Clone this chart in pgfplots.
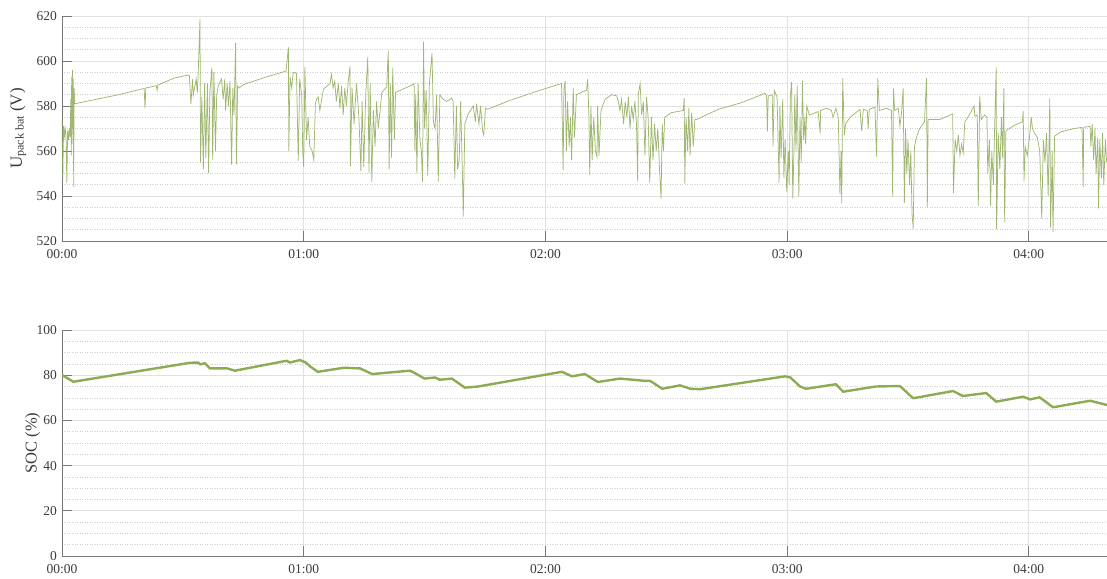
\documentclass[border=0pt]{standalone}
\usepackage{pgfplots}
\pgfplotsset{compat=1.18}
\usepackage{pgfplotstable}
\usepackage{fontspec}
\setmainfont{Liberation Serif}
\definecolor{volt}{RGB}{143,172,88}
\definecolor{soc}{RGB}{140,172,84}
\definecolor{gridmaj}{RGB}{225,225,225}
\definecolor{gridmin}{RGB}{205,205,205}
\definecolor{axcol}{RGB}{120,120,120}
\definecolor{txt}{RGB}{60,60,60}

\pgfplotstableread{
t V
0.0 574
0.2 548
0.4 571
0.6 566
0.8 570
1.0 567
1.2 546
1.4 569
1.6 565
1.8 570
2.0 566
2.2 583
2.3 558
2.4 593
2.5 563
2.6 596
2.7 570
2.8 592
2.9 544
3.0 588
3.2 581
8 582.8
14 585
20.4 587.8
20.6 579
20.8 588
23.4 589
23.6 587
23.8 589.3
27 591.8
28 592.5
31.6 593.8
32.0 581
32.4 592
32.6 585
33.3 592
33.6 586
33.8 594
34.25 618.5
34.4 555
34.7 584
35.1 552
35.4 590
35.7 557
36.1 590
36.4 550
36.7 586
37.2 597
37.4 556
37.7 595
38.1 560
38.4 585
38.8 589
39.6 592
40.0 583
40.4 592
40.6 578
41.0 590
41.3 580
41.7 591
42.1 554
42.4 588
42.7 576
43.1 608
43.3 554
43.6 589
44.0 588
45 589.5
50 592.5
55.6 595.5
56.2 606
56.3 560
56.6 593
57.0 588
57.4 595
58.2 594.5
58.65 555.6
59.0 592
59.5 585
59.75 560
60.0 553
60.3 597.5
60.7 565
61.1 575
61.5 562
62.1 560
62.5 556
62.9 581
63.2 583
63.6 584
64.0 578
64.9 587.5
66.5 590
66.9 594
67.3 588
67.7 591
68.1 582
68.6 590
69.0 579
69.4 589
69.8 576
70.2 588
70.6 580
71.0 590
71.5 597.6
71.6 553.2
72.0 588
72.5 572
73.1 590
73.7 575
74.2 551
74.5 582
74.9 553
75.4 585
75.9 601.7
76.2 550
76.5 590
76.9 546.3
77.3 578
77.7 562
78.1 582
78.5 570
79.4 586
80.6 588.5
81.0 604.6
81.2 551.8
81.5 590
81.8 557
82.1 597
82.5 565
82.8 586
87.2 589.6
87.4 590
87.6 560
87.8 585
88.1 550
88.4 590
88.85 565
89.2 560
89.5 546.3
89.75 608.6
90.0 570
90.4 587
90.8 549
91.2 590
91.85 603.5
92.2 573
92.6 570
93.0 585
93.4 546.3
93.8 585
94.6 583
95.5 582
96.7 583.5
97.1 582
97.5 547.7
97.9 580
98.2 552
98.6 556
98.95 582
99.4 550
99.6 530.8
100.0 572
100.9 576.7
102.1 580
102.6 573
102.9 581
103.5 572
103.9 580
104.4 569
104.7 567
105.1 579
105.6 578.5
111.2 582.5
117.8 586.5
124.0 590
124.4 551.6
124.6 588
124.9 591
125.2 560
125.5 582
125.9 562
126.2 575
126.5 556
126.9 588
127.2 566
127.7 585
129.4 586.5
130.2 587
130.5 592
130.8 575
131.0 549.3
131.3 580
131.6 556
132.0 575
132.4 560
132.8 557.5
132.95 580
133.3 558
133.8 578
134.8 583
136.4 585
137.7 584.5
138.1 582
138.5 578
138.9 583
139.4 572
139.8 582
140.2 575
140.6 584
141.0 570
141.4 580
141.8 574
142.2 582
142.6 572
142.9 546.5
143.05 585
143.5 590
143.9 576
144.3 582
144.7 558
145.1 584
145.5 575
145.9 546
146.3 575
146.7 556
147.1 572
147.5 560
147.9 570
148.3 553
148.7 538.7
149.0 572
149.3 560
149.6 575
151.2 577
154.2 578
154.45 583.5
154.6 545.5
154.9 575
155.3 560
155.6 579
155.9 558
156.3 577
156.7 562
157.1 574
157.5 574
162.9 578.5
168.7 581.5
174.5 585.6
174.9 584.6
175.1 568.7
175.3 584.5
176.3 585
176.5 562
176.8 587
177.5 584
178.0 546
178.2 580
178.5 557
178.9 583
179.2 548
179.5 565
179.9 542
180.3 560
180.5 545
180.8 584
181.1 590.6
181.4 538.8
181.7 560
181.9 585
182.2 560
182.5 589
182.9 540
183.2 575
183.5 555
183.8 591.3
184.1 565
184.4 575
184.6 563
184.9 580
185.5 576
187.7 577.5
188.2 568
188.3 578
189.8 579
191.0 578
191.4 575
192.1 579
192.7 575
193.1 541
193.4 560
193.55 536.6
193.8 592.4
194.2 567
194.5 572
195.6 575
198.1 578.5
198.5 569
198.9 578.5
199.9 578
200.1 570
200.4 578.5
201.8 579.5
202.2 557.5
202.5 592.4
202.9 578
204.7 579
205.9 578
206.2 539.7
206.4 587.8
206.7 578
207.6 579
208.0 571
208.4 577
208.8 587.8
209.1 537
209.4 570
209.7 550
210.0 565
210.4 545
210.7 560
211.0 532
211.3 525.4
211.6 562
212.1 566
212.9 570
214.1 573
214.6 592.4
214.8 535
215.0 574
217.9 574
221.1 576.5
221.3 541.3
221.7 565
222.1 560
222.5 567
222.9 558
223.3 563
223.7 559
224.1 573
224.9 575
226.4 580
226.6 575.5
227.2 576
227.45 535.4
227.8 584.5
228.2 574
229.0 576
229.6 575
229.8 550
230.2 565
230.5 535.7
230.8 560
231.2 545
231.5 570
231.9 597.2
232.0 525.4
232.4 568
232.8 552
233.2 575
233.5 557
233.8 587.8
234.0 528.3
234.3 569
236.5 571.5
238.4 573
238.6 577.7
238.8 546.5
239.1 562
239.6 558
240.1 565
240.6 575
240.9 570
241.4 568
242.1 566
242.7 560
243.2 530
243.6 565
244.0 555
244.4 568
244.8 540
245.2 583.4
245.4 526
245.8 560
246.0 524
246.4 566.7
248.0 568.5
251.3 570
253.2 570.5
253.5 543.8
253.6 570.5
255.2 571
255.4 562
255.7 572
256.1 556
256.4 570
256.7 550
257.1 566
257.3 534.5
257.6 565
258.0 548
258.3 568
258.6 545
259.0 565
259.3 555
}\voltdata

\pgfplotstableread{
t S
0 80.1
2.8 77.1
31.8 85.5
33.8 85.6
34.3 84.8
35.5 85.3
36.7 83.0
41.0 83.0
42.9 82.0
55.8 86.4
56.5 85.6
59.1 86.7
60.5 85.6
61.5 84
63.5 81.5
70 83.3
74 83
77 80.5
80 81
86.4 82
88 80.5
90 78.5
92.6 79
93.8 78
96.8 78.5
100 74.5
103.3 75
124.1 81.5
126.6 79.5
129.8 80.5
133 77
138.5 78.5
144.7 77.5
146 77.5
149 74
153.4 75.5
156 74
158.4 73.8
179.5 79.5
180.8 79
183.2 75
184.7 74
192.1 76
193.9 72.7
202 75
208 75.2
211.3 69.8
221.2 73
223.6 70.8
229.4 72.1
231.9 68.3
238.6 70.5
240.3 69.3
242.7 70.2
246 65.8
255.2 68.7
259.4 66.8
}\socdata

\pgfplotsset{
  myaxis/.style={
    scale only axis,
    width=1045pt,
    xmin=0, xmax=259.4,
    axis x line*=bottom,
    axis y line*=left,
    axis line style={axcol, line width=0.9pt, -},
    tick align=inside,
    major tick length=10pt,
    minor tick length=0pt,
    tick style={axcol, line width=0.9pt},
    xtick={0,60,120,180,240},
    xticklabels={00:00,01:00,02:00,03:00,04:00},
    minor y tick num=3,
    grid=both,
    major grid style={gridmaj, line width=0.9pt},
    minor grid style={gridmin, line width=0.5pt, dotted},
    xminorgrids=false,
    ticklabel style={font=\fontsize{13.5}{15}\selectfont, text=txt},
    xticklabel style={yshift=-4.5pt},
    yticklabel style={xshift=-1.5pt},
    /pgf/number format/assume math mode=true,
    clip=true,
  }
}

\begin{document}
\begin{tikzpicture}[x=1pt,y=1pt]
\useasboundingbox (0,0) rectangle (1107,578);
\begin{axis}[myaxis,
  at={(62pt,337pt)}, anchor=south west,
  height=225pt,
  ymin=520, ymax=620,
  ytick={520,540,...,620},
  ylabel={U{\fontsize{12}{14}\selectfont\raisebox{-0.35ex}{pack bat}} (V)},
  every axis y label/.style={at={(axis description cs:-0.042,0.5)}, rotate=90, anchor=center, font=\fontsize{17}{19}\selectfont, text=txt},
]
\addplot[volt, line width=0.75pt, opacity=0.85] table[x=t, y=V] {\voltdata};
\end{axis}
\begin{axis}[myaxis,
  at={(62pt,22pt)}, anchor=south west,
  height=226pt,
  ymin=0, ymax=100,
  ytick={0,20,...,100},
  ylabel={SOC (\%)},
  every axis y label/.style={at={(axis description cs:-0.028,0.5)}, rotate=90, anchor=center, font=\fontsize{16.5}{18}\selectfont, text=txt},
]
\addplot[soc, line width=2.4pt, line join=round] table[x=t, y=S] {\socdata};
\end{axis}
\end{tikzpicture}
\end{document}
